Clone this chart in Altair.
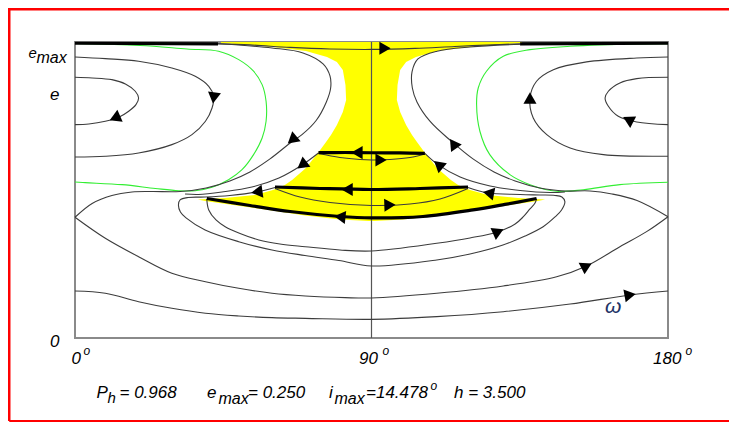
import altair as alt
import pandas as pd

# ---------------- data (omega in degrees, e) ----------------
A_L_W = [0, 5.2, 11.2, 15.3, 18.3, 19.3, 18.5, 16.3, 13.3, 9.2, 4.2, 0]
A_L_E = [0.2319, 0.2313, 0.2298, 0.2260, 0.2195, 0.2135, 0.2076, 0.2017, 0.1964, 0.1928, 0.1904, 0.1898]
A_R_W = [180, 170.5, 165.4, 161.9, 160.9, 161.9, 164.9, 170.5, 180]
A_R_E = [0.2319, 0.2307, 0.2269, 0.2195, 0.2135, 0.2061, 0.1972, 0.1922, 0.1898]

B_L_W = [0, 9.2, 19.3, 29.4, 36.5, 40.6, 42.1, 41.6, 39.6, 35.5, 29.4, 19.3, 9.2, 0]
B_L_E = [0.25, 0.2485, 0.2462, 0.2402, 0.2328, 0.2239, 0.2150, 0.2046, 0.1928, 0.1809, 0.1720, 0.1646, 0.1617, 0.1610]
B_R_W = [180, 170.5, 155.3, 145.2, 140.1, 138.1, 139.1, 143.2, 150.3, 160.4, 180]
B_R_E = [0.25, 0.2491, 0.2456, 0.2387, 0.2284, 0.2135, 0.1957, 0.1809, 0.1690, 0.1631, 0.1617]

GREEN_L_W = [0, 19.7, 34.0, 43.6, 49.7, 54.2, 56.8, 58.0, 58.0, 56.8, 54.2, 50.7, 46.6, 41.6, 36.5, 31.5, 24.4, 14.3, 3.1, 0]
GREEN_L_E = [0.2620, 0.2602, 0.2571, 0.2551, 0.2476, 0.2373, 0.2254, 0.2106, 0.1928, 0.1779, 0.1631, 0.1497, 0.1408,
             0.1341, 0.1310, 0.1310, 0.1330, 0.1364, 0.1382, 0.1388]
GREEN_R_W = [180, 170.5, 150.3, 138.1, 130.0, 124.9, 122.4, 121.9, 122.9, 125.9, 132.0, 138.1, 146.2, 154.3, 165.4, 180]
GREEN_R_E = [0.2618, 0.2616, 0.2595, 0.2565, 0.2506, 0.2373, 0.2224, 0.2076, 0.1839, 0.1631, 0.1453, 0.1364, 0.1305,
             0.1319, 0.1364, 0.1385]

C_L_W = [43.1, 59.8, 69.2, 75.3, 77.4, 77.6, 76.3, 73.2, 68.9, 65.9, 59.2, 53.1, 47.0, 39.8, 31.9, 23.4, 17.3, 11.2, 5.2, 0]
C_L_E = [0.2620, 0.2580, 0.2536, 0.2438, 0.2331, 0.2224, 0.2100, 0.1935, 0.1809, 0.1748, 0.1593, 0.1477, 0.1397,
         0.1335, 0.1303, 0.1303, 0.1299, 0.1268, 0.1197, 0.1074]
C_R_W = [135.1, 119.9, 109.9, 104.1, 102.3, 102.4, 103.8, 107.8, 114.1, 120.8, 127.2, 133.6, 141.1, 148.7, 156.3, 163.0, 170.6, 180]
C_R_E = [0.2613, 0.2589, 0.2551, 0.2482, 0.2367, 0.2224, 0.2100, 0.1926, 0.1753, 0.1593, 0.1477, 0.1397, 0.1335,
         0.1308, 0.1308, 0.1281, 0.1223, 0.1079]

TOP_W = [43.4, 53.1, 65.3, 77.4, 90.0, 103.2, 115.3, 129.0, 135.1]
TOP_E = [0.2616, 0.2607, 0.2585, 0.2571, 0.2567, 0.2576, 0.2593, 0.2611, 0.2616]

D_L_W = [73.9, 68.9, 61.9, 53.7, 44.6, 37.5, 33.4]
D_L_E = [0.1646, 0.1539, 0.1423, 0.1343, 0.1299, 0.1277, 0.1281]
D_R_W = [106.2, 110.2, 116.9, 126.0, 135.1, 144.2, 148.7]
D_R_E = [0.1643, 0.1542, 0.1432, 0.1352, 0.1312, 0.1294, 0.1299]

G_W = [60.7, 55.2, 47.0, 39.5, 34.3, 31.9, 31.4, 32.0, 33.7, 39.5, 49.7, 59.8, 69.8, 80.1, 90.0, 109.8, 119.9,
       129.9, 136.6, 142.1, 145.7, 147.7, 148.7, 147.8, 145.7, 141.1, 135.1, 125.4, 119.3]
G_E = [0.1339, 0.1299, 0.1268, 0.1254, 0.1250, 0.1228, 0.1183, 0.1121, 0.1068, 0.0961, 0.0857, 0.0783, 0.0734,
       0.0690, 0.0641, 0.0694, 0.0747, 0.0827, 0.0907, 0.0990, 0.1077, 0.1139, 0.1213, 0.1254, 0.1268, 0.1272,
       0.1277, 0.1290, 0.1339]

F_W = [40.0, 40.6, 42.8, 45.6, 50.1, 55.8, 62.2, 69.9, 80.4, 90.0, 109.8, 119.9, 128.5, 133.6, 136.1, 138.1, 139.6, 140.1]
F_E = [0.1237, 0.1139, 0.1050, 0.0990, 0.0930, 0.0872, 0.0836, 0.0812, 0.0783, 0.0774, 0.0843, 0.0890, 0.0946,
       0.1014, 0.1079, 0.1148, 0.1198, 0.1237]

H_W = [0, 9.2, 19.3, 29.4, 39.6, 49.7, 59.8, 69.9, 82.0, 90.0, 109.8, 130.0, 146.2, 155.3, 165.4, 173.5, 180]
H_E = [0.1074, 0.0887, 0.0723, 0.0576, 0.0501, 0.0442, 0.0398, 0.0374, 0.0359, 0.0356, 0.0398, 0.0463, 0.0545,
       0.0641, 0.0812, 0.0946, 0.1079]

I_W = [0, 9.2, 19.3, 29.4, 39.6, 49.7, 59.8, 69.9, 90.0, 109.8, 130.0, 150.3, 168.5, 180]
I_E = [0.0418, 0.0398, 0.0323, 0.0264, 0.0220, 0.0196, 0.0181, 0.0175, 0.0166, 0.0190, 0.0234, 0.0302, 0.0383, 0.0418]

T1_W = [73.9, 82.0, 90.0, 98.6, 106.2]
T1_E = [0.1649, 0.1650, 0.1648, 0.1646, 0.1643]
T1ARC_W = [73.9, 80.4, 86.5, 90.0, 95.6, 101.7, 106.2]
T1ARC_E = [0.1641, 0.1606, 0.1588, 0.1584, 0.1588, 0.1606, 0.1637]
T2_W = [60.7, 74.4, 90.0, 104.7, 119.3]
T2_E = [0.1343, 0.1330, 0.1321, 0.1330, 0.1343]
T2ARC_W = [60.7, 68.3, 77.4, 90.0, 101.7, 110.8, 119.3]
T2ARC_E = [0.1330, 0.1254, 0.1206, 0.1179, 0.1192, 0.1237, 0.1330]
T3_W = [40.0, 53.1, 65.3, 80.4, 90.0, 105.6, 120.8, 130.5, 140.1]
T3_E = [0.1241, 0.1179, 0.1125, 0.1081, 0.1068, 0.1081, 0.1139, 0.1188, 0.1241]
TOPL_W = [0, 43.4]
TOPL_E = [0.2622, 0.2616]
TOPR_W = [135.1, 180]
TOPR_E = [0.2616, 0.2622]

# yellow region: for each e, left and right omega boundary
YEL_E = [0.2633, 0.2625, 0.2589, 0.2553, 0.2500, 0.2455, 0.2384, 0.2251, 0.2117, 0.2011, 0.1895, 0.1806, 0.1744,
         0.1664, 0.1512, 0.1406, 0.1361, 0.1317, 0.1272, 0.1246, 0.1232, 0.1219, 0.1174, 0.1134, 0.1090, 0.1054, 0.1041]
YEL_WL = [44.3, 44.3, 60.1, 70.1, 76.5, 79.5, 81.3, 82.1, 82.3, 81.3, 79.5, 77.7, 76.2, 74.2, 70.1, 65.9, 63.7,
          60.1, 54.6, 45.5, 37.3, 39.5, 50.1, 59.8, 69.8, 80.4, 89.2]
YEL_WR = [135.7, 135.7, 119.9, 109.9, 103.5, 100.5, 98.7, 97.9, 97.7, 98.7, 100.5, 102.3, 103.8, 105.8, 109.9,
          114.1, 116.3, 119.9, 125.4, 134.5, 142.7, 140.5, 129.9, 120.2, 110.2, 99.6, 90.8]

# flow arrows: position and heading (degrees clockwise from up)
ARROW_W = [12.1, 42.1, 65.9, 68.9, 55.2, 85.6, 92.9, 82.6, 95.6, 80.4, 94.1, 167.9, 138.1, 114.8, 110.3, 125.5,
           128.5, 155.3, 168.5]
ARROW_E = [0.1957, 0.2135, 0.1762, 0.1539, 0.1299, 0.1649, 0.1584, 0.1321, 0.1183, 0.1077, 0.2577, 0.1942, 0.2135,
           0.1730, 0.1542, 0.1290, 0.0946, 0.0641, 0.0383]
ARROW_DIR = [246, 188, 230, 233, 262, 270, 90, 270, 88, 276, 90, 297, 0, 325, 310, 281, 66, 63, 80]

CENTER_W = [90]

# ---------------- build tables ----------------
def long_table(curves):
    rows = []
    for name, (ws, es) in curves.items():
        for i, (w, e) in enumerate(zip(ws, es)):
            rows.append({"curve": name, "i": i, "w": w, "e": e})
    return pd.DataFrame(rows)

thin_df = long_table({
    "A_L": (A_L_W, A_L_E), "A_R": (A_R_W, A_R_E), "B_L": (B_L_W, B_L_E), "B_R": (B_R_W, B_R_E),
    "C_L": (C_L_W, C_L_E), "C_R": (C_R_W, C_R_E), "D_L": (D_L_W, D_L_E), "D_R": (D_R_W, D_R_E),
    "G": (G_W, G_E), "F": (F_W, F_E), "H": (H_W, H_E), "I": (I_W, I_E),
    "T1ARC": (T1ARC_W, T1ARC_E), "T2ARC": (T2ARC_W, T2ARC_E), "TOP": (TOP_W, TOP_E),
})
green_df = long_table({"GL": (GREEN_L_W, GREEN_L_E), "GR": (GREEN_R_W, GREEN_R_E)})
thick_df = long_table({"T1": (T1_W, T1_E), "T2": (T2_W, T2_E), "T3": (T3_W, T3_E),
                       "TL": (TOPL_W, TOPL_E), "TR": (TOPR_W, TOPR_E)})
yel_df = pd.DataFrame({"e": YEL_E, "wl": YEL_WL, "wr": YEL_WR})
arrow_df = pd.DataFrame({"w": ARROW_W, "e": ARROW_E, "dir": ARROW_DIR})
center_df = pd.DataFrame({"w": CENTER_W})
dummy = pd.DataFrame({"k": [0]})

xs = alt.Scale(domain=[0, 180], nice=False, zero=False)
ys = alt.Scale(domain=[0, 0.2633], nice=False, zero=False)
FONT = "Liberation Sans"


def line_layer(df, color, width, interp="catmull-rom"):
    return alt.Chart(df).mark_line(color=color, strokeWidth=width, interpolate=interp).encode(
        x=alt.X("w:Q", scale=xs, axis=None),
        y=alt.Y("e:Q", scale=ys, axis=None),
        detail="curve:N",
        order="i:Q",
    )


yellow = alt.Chart(yel_df).mark_area(orient="horizontal", color="#ffff00", opacity=1).encode(
    y=alt.Y("e:Q", scale=ys, axis=None),
    x=alt.X("wl:Q", scale=xs, axis=None),
    x2="wr:Q",
)
center = alt.Chart(center_df).mark_rule(color="#555555", strokeWidth=1.2).encode(
    x=alt.X("w:Q", scale=xs, axis=None)
)
thin = line_layer(thin_df, "#3c3c3c", 1.1)
green = line_layer(green_df, "#33ee33", 1.1)
thick = line_layer(thick_df, "#000000", 3.2)
arrows = alt.Chart(arrow_df).mark_point(shape="triangle-up", filled=True, color="black", opacity=1,
                                        size=170, strokeWidth=0).encode(
    x=alt.X("w:Q", scale=xs, axis=None),
    y=alt.Y("e:Q", scale=ys, axis=None),
    angle=alt.Angle("dir:Q", scale=None),
)


def txt(t, px, py, fs, color="black"):
    return alt.Chart(dummy).mark_text(text=t, font=FONT, fontStyle="italic", fontSize=fs, align="left",
                                      baseline="alphabetic", color=color).encode(
        x=alt.value(px), y=alt.value(py))


texts = [
    txt("e", -46.5, 16, 15), txt("max", -38.5, 21, 16),
    txt("e", -25, 58, 17),
    txt("0", -25, 305, 17),
    txt("0", -3.5, 321.5, 17), txt("o", 8.5, 313, 12),
    txt("90", 284, 321.5, 17), txt("o", 307.5, 313, 12),
    txt("180", 578, 321.5, 17), txt("o", 610.5, 313, 12),
    txt("P", 21.5, 356, 17), txt("h", 32.5, 361, 15), txt("= 0.968", 44.5, 356, 17),
    txt("e", 132, 356, 17), txt("max", 143.5, 362, 16), txt("= 0.250", 173, 356, 17),
    txt("i", 254, 356, 17), txt("max", 259.5, 362, 16), txt("=14.478", 291, 356, 17),
    txt("o", 355.5, 348, 12), txt("h = 3.500", 379, 356, 17),
    txt("\u03c9", 530, 271, 21, "#223366"),
]

# red page frame: an open outline (top and left edges, plus a thin bottom edge) drawn as polylines
frame_df = pd.DataFrame({
    "curve": ["TL", "TL", "TL", "B", "B"],
    "i": [0, 1, 2, 0, 1],
    "w": [210, -19.96, -19.96, -19.96, 210],
    "e": [0.29243, 0.29243, -0.0738, -0.0738, -0.0738],
})
frame_top = alt.Chart(frame_df[frame_df.curve == "TL"]).mark_line(
    color="#ff0000", strokeWidth=2.5, interpolate="linear", clip=False).encode(
    x=alt.X("w:Q", scale=xs, axis=None), y=alt.Y("e:Q", scale=ys, axis=None), order="i:Q")
frame_bot = alt.Chart(frame_df[frame_df.curve == "B"]).mark_line(
    color="#ff0000", strokeWidth=2, interpolate="linear", clip=False).encode(
    x=alt.X("w:Q", scale=xs, axis=None), y=alt.Y("e:Q", scale=ys, axis=None), order="i:Q")

chart = alt.layer(yellow, center, green, thin, thick, arrows, *texts, frame_top, frame_bot).properties(
    width=593, height=296,
    padding={"left": 67, "top": 34, "right": 61, "bottom": 84},
    autosize=alt.AutoSizeParams(type="none"),
    background="white",
).configure_view(stroke="#8a8a8a", strokeWidth=2)

chart.save("out.html", embed_options={"renderer": "svg", "actions": False})
